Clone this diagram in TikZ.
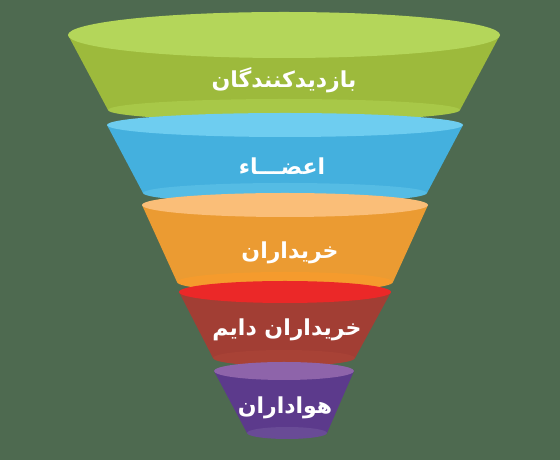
\documentclass[tikz,border=0pt]{standalone}
\usepackage{fontspec}
\newfontfamily\arabicfont[Script=Arabic]{DejaVu Sans}
\TeXXeTstate=1
\definecolor{bg}{HTML}{4E6A50}
\definecolor{gTop}{HTML}{B4D65A}
\definecolor{gBody}{HTML}{9DBA3C}
\definecolor{gBot}{HTML}{A8C848}
\definecolor{bTop}{HTML}{6ECDF0}
\definecolor{bBody}{HTML}{44B0DE}
\definecolor{bBot}{HTML}{55BCE4}
\definecolor{oTop}{HTML}{FABE78}
\definecolor{oBody}{HTML}{EB9B32}
\definecolor{oBot}{HTML}{F59B2D}
\definecolor{rTop}{HTML}{EB2828}
\definecolor{rBody}{HTML}{A23E34}
\definecolor{rBot}{HTML}{A84236}
\definecolor{pTop}{HTML}{8E64AA}
\definecolor{pBody}{HTML}{5C3A8C}
\definecolor{pBot}{HTML}{694B96}
\begin{document}
\begin{tikzpicture}[x=1pt,y=1pt,
  lbl/.style={text=white,font=\arabicfont\bfseries\fontsize{22}{26}\selectfont,inner sep=0pt}]
\useasboundingbox (0,0) rectangle (560,460);
\fill[bg] (0,0) rectangle (560,460);
% green
\fill[gBody] (68,425) -- (108,350) -- (460,350) -- (500,425) -- cycle;
\fill[gBot] (284,350) ellipse [x radius=176pt, y radius=11pt];
\fill[gTop] (284,425) ellipse [x radius=216pt, y radius=23pt];
% blue
\fill[bBody] (107,335) -- (143,267) -- (427,267) -- (463,335) -- cycle;
\fill[bBot] (285,267) ellipse [x radius=142pt, y radius=10pt];
\fill[bTop] (285,335) ellipse [x radius=178pt, y radius=12pt];
% orange
\fill[oBody] (142,255) -- (177,178) -- (393,178) -- (428,255) -- cycle;
\fill[oBot] (285,178) ellipse [x radius=108pt, y radius=10pt];
\fill[oTop] (285,255) ellipse [x radius=143pt, y radius=12pt];
% red
\fill[rBody] (179,168) -- (213,102) -- (355,102) -- (391,168) -- cycle;
\fill[rBot] (284,102) ellipse [x radius=71pt, y radius=8pt];
\fill[rTop] (285,168) ellipse [x radius=106pt, y radius=11pt];
% purple
\fill[pBody] (214,89) -- (247,27) -- (327,27) -- (354,89) -- cycle;
\fill[pBot] (287,27) ellipse [x radius=40pt, y radius=6pt];
\fill[pTop] (284,89) ellipse [x radius=70pt, y radius=9pt];
% labels
\node[lbl] (t1) at (284,380) {\beginR بازدیدکنندگان\endR};
\node[lbl] (t2) at (282,294) {\beginR اعضـــاء\endR};
\node[lbl] (t3) at (290,207) {\beginR خریداران\endR};
\node[lbl] (t4) at (287,130) {\beginR خریداران دایم\endR};
\node[lbl] (t5) at (285,52) {\beginR هواداران\endR};
\end{tikzpicture}
\end{document}
